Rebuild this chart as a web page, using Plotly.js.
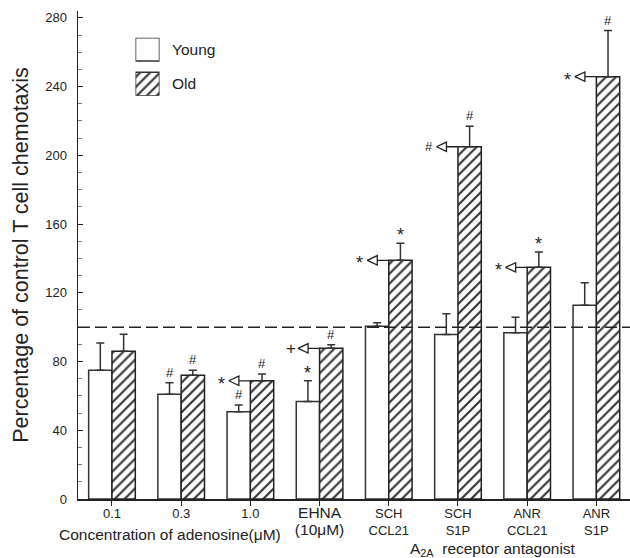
<!DOCTYPE html>
<html>
<head>
<meta charset="utf-8">
<script src="https://cdn.plot.ly/plotly-3.0.1.min.js"></script>
<style>html,body{margin:0;padding:0;background:#fff;}#chart{width:630px;height:558px;}</style>
</head>
<body>
<div id="chart"></div>
<script>
// ---- data ----
const groups = ['0.1', '0.3', '1.0', 'EHNA', 'SCH CCL21', 'SCH S1P', 'ANR CCL21', 'ANR S1P'];
const tickTop = ['0.1', '0.3', '1.0', 'EHNA', 'SCH', 'SCH', 'ANR', 'ANR'];
const tickBottom = ['', '', '', '(10\u03bcM)', 'CCL21', 'S1P', 'CCL21', 'S1P'];
const seriesNames = ['Young', 'Old'];
const youngMean = [74.9, 60.9, 50.8, 56.8, 100.6, 95.7, 96.8, 112.8];
const youngErr  = [15.9, 6.8, 3.9, 12.0, 2.0, 12.1, 9.0, 13.0];
const oldMean   = [86.0, 72.0, 68.8, 87.7, 138.9, 205.0, 134.8, 245.8];
const oldErr    = [9.9, 2.9, 3.9, 2.1, 9.9, 11.9, 8.9, 26.8];
const youngSig  = ['', '#', '#', '*', '', '', '', ''];
const oldSig    = ['', '#', '#', '#', '*', '#', '*', '#'];
const arrowSig  = ['', '', '*', '+', '*', '#', '*', '*'];
const controlLevel = 100;
const yTickVals = [0, 40, 80, 120, 160, 200, 240, 280];

// ---- geometry ----
const W = 630, H = 558;
const M = {l: 78, r: 0, t: 11, b: 59};
const xRange = [-0.491, 7.486];
const yRange = [0, 284];
const plotW = W - M.l - M.r, plotH = H - M.t - M.b;
const pxX = plotW / (xRange[1] - xRange[0]);
const pxY = plotH / (yRange[1] - yRange[0]);
const bargap = 0.326;
const barW = (1 - bargap) / 2;
const idx = groups.map((g, i) => i);
const ink = '#222';
const font = 'Liberation Sans, Arial, sans-serif';

const ticktext = tickTop.map((t, i) => {
  if (i === 3) return '<span style="font-size:15.5px">' + t + '</span><br><span style="font-size:15.5px">' + tickBottom[i] + '</span>';
  return tickBottom[i] ? t + '<br>' + tickBottom[i] : t;
});

const traces = [
  {
    type: 'bar', name: seriesNames[0], x: idx, y: youngMean,
    marker: {color: '#fff', line: {color: '#333', width: 1.5}},
    error_y: {type: 'data', symmetric: false, array: youngErr, arrayminus: youngErr.map(() => 0),
              color: '#333', thickness: 1.5, width: 4},
    showlegend: false, hoverinfo: 'skip'
  },
  {
    type: 'bar', name: seriesNames[1], x: idx, y: oldMean,
    marker: {color: '#fff', line: {color: ink, width: 1.5},
             pattern: {shape: '/', fgcolor: '#333', bgcolor: '#fff', size: 7, solidity: 0.3}},
    error_y: {type: 'data', symmetric: false, array: oldErr, arrayminus: oldErr.map(() => 0),
              color: '#333', thickness: 1.5, width: 4},
    showlegend: false, hoverinfo: 'skip'
  }
];

// arrows (line + open triangle pointing left) from the left top edge of Old bars
const L = 11.5 / pxX, TW = 10 / pxX, TH = 4.7 / pxY;
const ax = [], ay = [];
idx.forEach(i => {
  if (!arrowSig[i]) return;
  const v = oldMean[i];
  ax.push(i, i - L, i - L, i - L - TW, i - L, i - L, null);
  ay.push(v, v, v + TH, v, v - TH, v, null);
});
traces.push({type: 'scatter', mode: 'lines', x: ax, y: ay, line: {color: ink, width: 1.3},
             showlegend: false, hoverinfo: 'skip'});

// legend boxes drawn as bars in a small subplot
traces.push({
  type: 'bar', orientation: 'h', x: [1, 1], y: [1, 0], width: [0.676, 0.676],
  xaxis: 'x2', yaxis: 'y2',
  marker: {color: '#fff', line: {color: '#333', width: 1.5},
           pattern: {shape: ['', '/'], fgcolor: '#333', bgcolor: '#fff', size: 7, solidity: 0.3}},
  showlegend: false, hoverinfo: 'skip'
});

const annotations = [];
idx.forEach(i => {
  [[youngSig, youngMean, youngErr, -barW / 2], [oldSig, oldMean, oldErr, barW / 2]].forEach(([sig, m, e, off]) => {
    if (!sig[i]) return;
    annotations.push({x: i + off, y: m[i] + e[i], xref: 'x', yref: 'y', text: sig[i], showarrow: false,
      yanchor: 'bottom', yshift: sig[i] === '*' ? -4 : 1, font: {family: font, size: sig[i] === '*' ? 18 : 13, color: ink}});
  });
  if (arrowSig[i]) {
    annotations.push({x: i, y: oldMean[i], xref: 'x', yref: 'y', text: arrowSig[i], showarrow: false,
      xanchor: 'center', yanchor: 'middle', xshift: -29, yshift: arrowSig[i] === '*' ? -3 : 0,
      font: {family: font, size: arrowSig[i] === '+' ? 17 : (arrowSig[i] === '*' ? 18 : 13), color: ink}});
  }
});
// legend text
seriesNames.forEach((n, k) => {
  annotations.push({x: (170 - M.l) / plotW, y: 1 - k, xref: 'paper', yref: 'y2', text: n, showarrow: false,
    xanchor: 'left', yanchor: 'middle', font: {family: font, size: 15.5, color: ink}});
});
// axis group captions
annotations.push({x: 2.47, y: 0, xref: 'x', yref: 'paper', yanchor: 'middle', xanchor: 'right', yshift: -35,
  text: 'Concentration of adenosine(\u03bcM)', showarrow: false, font: {family: font, size: 15.5, color: ink}});
annotations.push({x: 5.5, y: 0, xref: 'x', yref: 'paper', yanchor: 'middle', xanchor: 'center', yshift: -50,
  text: 'A<sub>2A</sub>  receptor antagonist', showarrow: false, font: {family: font, size: 15.5, color: ink}});

const layout = {
  width: W, height: H, margin: M,
  paper_bgcolor: '#fff', plot_bgcolor: '#fff',
  barmode: 'group', bargap: bargap, bargroupgap: 0,
  font: {family: font, color: ink},
  xaxis: {range: xRange, tickmode: 'array', tickvals: idx, ticktext: ticktext,
          tickfont: {family: font, size: 13, color: ink}, ticks: 'outside', ticklen: 5, tickcolor: ink,
          ticklabelstandoff: -3,
          showline: true, linecolor: ink, linewidth: 1.5, showgrid: false, zeroline: false, fixedrange: true},
  yaxis: {range: yRange, tickmode: 'array', tickvals: yTickVals, ticks: 'inside', ticklen: 5, tickcolor: ink,
          minor: {tickmode: 'linear', tick0: 0, dtick: 10, ticks: 'inside', ticklen: 4, tickcolor: '#777'},
          tickfont: {family: font, size: 13, color: ink}, ticklabelstandoff: 7,
          showline: true, linecolor: ink, linewidth: 1.5, showgrid: false, zeroline: false,
          title: {text: 'Percentage of control T cell chemotaxis', font: {family: font, size: 21.5, color: ink}, standoff: 10}},
  xaxis2: {domain: [(135.5 - M.l) / plotW, (159.5 - M.l) / plotW], anchor: 'y2', range: [0, 1], visible: false, fixedrange: true},
  yaxis2: {domain: [(H - M.b - 95.7) / plotH, (H - M.b - 37.7) / plotH], anchor: 'x2', range: [-0.338, 1.338], visible: false, fixedrange: true},
  shapes: [{type: 'line', xref: 'paper', x0: 0, x1: 1, yref: 'y', y0: controlLevel, y1: controlLevel,
            line: {color: ink, width: 1.5, dash: '12px,5px'}, layer: 'above'}],
  annotations: annotations,
  showlegend: false
};

Plotly.newPlot('chart', traces, layout, {displayModeBar: false, staticPlot: true});
</script>
</body>
</html>
